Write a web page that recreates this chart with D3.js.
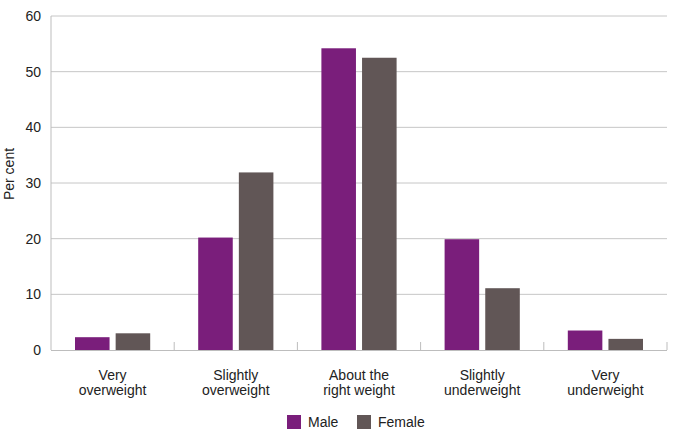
<!DOCTYPE html>
<html>
<head>
<meta charset="utf-8">
<script src="https://cdn.jsdelivr.net/npm/d3@7"></script>
<style>
body { margin: 0; background: #fff; }
text { font-family: "Liberation Sans", Arial, sans-serif; fill: #222; }
</style>
</head>
<body>
<script>
var w = 675;
var h = 435;

// data
var categories = [["Very", "overweight"], ["Slightly", "overweight"], ["About the", "right weight"],
    ["Slightly", "underweight"], ["Very", "underweight"]];
var series = ["Male", "Female"];
var male = [2.3, 20.2, 54.2, 19.9, 3.5];
var female = [3.0, 31.9, 52.5, 11.1, 2.0];
var colors = ["#7a1e7b", "#615656"];
var yTicks = [0, 10, 20, 30, 40, 50, 60];

var margin = {left: 51, right: 8, top: 16, bottom: 85};

var svg = d3.select("body")
    .append("svg")
    .attr("width", w)
    .attr("height", h);

var x = d3.scaleBand()
    .domain(d3.range(categories.length))
    .range([margin.left, w - margin.right]);

var y = d3.scaleLinear()
    .domain([0, 60])
    .range([h - margin.bottom, margin.top]);

var x1 = d3.scaleBand()
    .domain(series)
    .range([24, x.bandwidth() - 24])
    .paddingInner(0.15);

// gridlines
svg.append("g")
    .selectAll("line")
    .data(yTicks.slice(1))
    .enter()
    .append("line")
    .attr("x1", margin.left)
    .attr("x2", w - margin.right)
    .attr("y1", d => y(d))
    .attr("y2", d => y(d))
    .attr("stroke", "#c6c6c6")
    .attr("stroke-width", 1);

// y tick labels
svg.append("g")
    .selectAll("text")
    .data(yTicks)
    .enter()
    .append("text")
    .attr("x", 41)
    .attr("y", d => y(d))
    .attr("dy", "0.35em")
    .attr("text-anchor", "end")
    .style("font-size", "14px")
    .text(d => d);

// bars
var groups = svg.append("g")
    .selectAll("g")
    .data(categories.map((c, i) => [male[i], female[i]]))
    .enter()
    .append("g")
    .attr("transform", (d, i) => "translate(" + x(i) + ",0)");

groups.selectAll("rect")
    .data(d => d)
    .enter()
    .append("rect")
    .attr("x", (d, i) => x1(series[i]))
    .attr("y", d => y(d))
    .attr("width", x1.bandwidth())
    .attr("height", d => y(0) - y(d))
    .attr("fill", (d, i) => colors[i]);

// axes lines
svg.append("line")
    .attr("x1", margin.left).attr("x2", margin.left)
    .attr("y1", margin.top).attr("y2", y(0))
    .attr("stroke", "#bdbdbd");
svg.append("line")
    .attr("x1", margin.left).attr("x2", w - margin.right)
    .attr("y1", y(0) + 0.5).attr("y2", y(0) + 0.5)
    .attr("stroke", "#bdbdbd");

// category ticks
svg.append("g")
    .selectAll("line")
    .data(d3.range(1, categories.length + 1))
    .enter()
    .append("line")
    .attr("x1", d => x.step() * d + margin.left)
    .attr("x2", d => x.step() * d + margin.left)
    .attr("y1", y(0) - 8)
    .attr("y2", y(0))
    .attr("stroke", "#bdbdbd");

// category labels, two lines each
categories.forEach(function (c, i) {
    c.forEach(function (line, j) {
        svg.append("text")
            .attr("x", x(i) + x.bandwidth() / 2)
            .attr("y", y(0) + 30 + j * 15)
            .attr("text-anchor", "middle")
            .style("font-size", "14px")
            .text(line);
    });
});

// y label
svg.append("text")
    .attr("transform", "translate(14,174) rotate(-90)")
    .attr("text-anchor", "middle")
    .style("font-size", "14px")
    .text("Per cent");

// legend
var legend = svg.append("g")
    .selectAll("g")
    .data(series)
    .enter()
    .append("g")
    .attr("transform", (d, i) => "translate(" + (287 + i * 70) + ",415)");
legend.append("rect")
    .attr("width", 14)
    .attr("height", 14)
    .attr("fill", (d, i) => colors[i]);
legend.append("text")
    .attr("x", 21)
    .attr("y", 7)
    .attr("dy", "0.35em")
    .style("font-size", "14px")
    .text(d => d);
</script>
</body>
</html>
